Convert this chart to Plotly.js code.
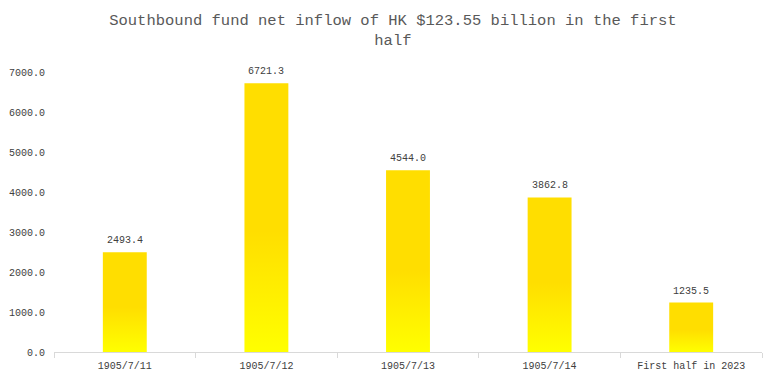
<!DOCTYPE html>
<html>
<head>
<meta charset="utf-8">
<script src="https://cdn.plot.ly/plotly-3.0.1.min.js"></script>
<style>html,body{margin:0;padding:0;background:#fff;}#chart{width:775px;height:384px;}</style>
</head>
<body>
<div id="chart"></div>
<script>
const categories = ["1905/7/11", "1905/7/12", "1905/7/13", "1905/7/14", "First half in 2023"];
const values = [2493.4, 6721.3, 4544.0, 3862.8, 1235.5];
const yTickVals = [0, 1000, 2000, 3000, 4000, 5000, 6000, 7000];
const yTickText = yTickVals.map(v => v.toFixed(1));
const labels = values.map(v => v.toFixed(1));
const titleText = "Southbound fund net inflow of HK $123.55 billion in the first<br>half";

const FONT = "'Liberation Mono', 'DejaVu Sans Mono', monospace";

const trace = {
  type: "bar",
  x: categories,
  y: values,
  width: 0.31,
  marker: {color: "#FFDE00", line: {width: 0}},
  hoverinfo: "x+y"
};

const annotations = categories.map((c, i) => ({
  x: c, y: values[i], text: labels[i],
  showarrow: false, xanchor: "center", yanchor: "bottom", yshift: 4,
  font: {family: FONT, size: 10, color: "#404040"}
}));

const layout = {
  width: 775, height: 384,
  margin: {l: 54, r: 13, t: 72, b: 32},
  paper_bgcolor: "#fff", plot_bgcolor: "#fff",
  showlegend: false,
  title: {
    text: titleText, x: 0.507, xanchor: "center", y: 0.935, yanchor: "middle",
    font: {family: FONT, size: 15.5, color: "#595959"}
  },
  xaxis: {
    type: "category",
    tickson: "boundaries",
    ticks: "outside", ticklen: 5, tickcolor: "#d9d9d9", tickwidth: 1,
    showline: true, linecolor: "#d9d9d9", linewidth: 1,
    showgrid: false, zeroline: false, ticklabelstandoff: 4,
    tickfont: {family: FONT, size: 10, color: "#404040"}
  },
  yaxis: {
    range: [0, 7000],
    tickvals: yTickVals, ticktext: yTickText,
    showgrid: false, zeroline: false, showline: false,
    ticks: "", ticklabelstandoff: 8,
    tickfont: {family: FONT, size: 10, color: "#404040"}
  },
  annotations: annotations,
  bargap: 0.69
};

Plotly.newPlot("chart", [trace], layout, {displayModeBar: false, staticPlot: true}).then(gd => {
  const svg = gd.querySelector("svg.main-svg");
  const ns = "http://www.w3.org/2000/svg";
  let defs = svg.querySelector("defs");
  if (!defs) { defs = document.createElementNS(ns, "defs"); svg.insertBefore(defs, svg.firstChild); }
  const lg = document.createElementNS(ns, "linearGradient");
  lg.setAttribute("id", "barGrad");
  lg.setAttribute("x1", "0"); lg.setAttribute("y1", "0");
  lg.setAttribute("x2", "0"); lg.setAttribute("y2", "1");
  [["0", "#FFDE00"], ["0.55", "#FFDE00"], ["1", "#FFFF00"]].forEach(([o, c]) => {
    const s = document.createElementNS(ns, "stop");
    s.setAttribute("offset", o); s.setAttribute("stop-color", c);
    lg.appendChild(s);
  });
  defs.appendChild(lg);
  gd.querySelectorAll(".bars path").forEach(p => { p.style.fill = "url(#barGrad)"; });
});
</script>
</body>
</html>
